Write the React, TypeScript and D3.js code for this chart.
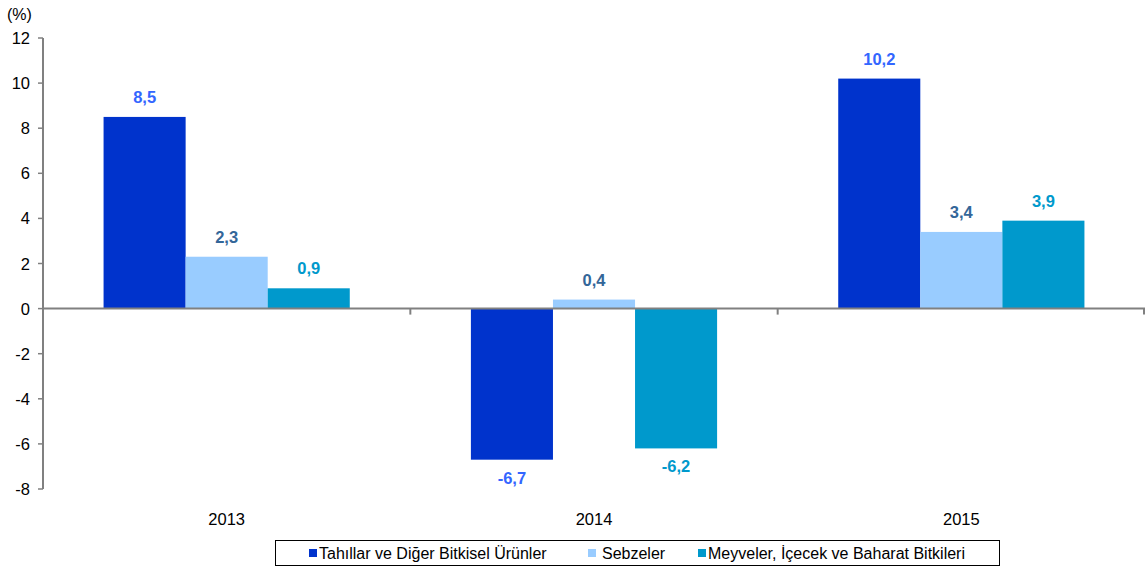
import React from "react";
import * as d3 from "d3";

const categories = ["2013", "2014", "2015"];
const seriesNames = [
  "Tahıllar ve Diğer Bitkisel Ürünler",
  "Sebzeler",
  "Meyveler, İçecek ve Baharat Bitkileri",
];
const tahillar = [8.5, -6.7, 10.2];
const sebzeler = [2.3, 0.4, 3.4];
const meyveler = [0.9, -6.2, 3.9];
const yTicks = [-8, -6, -4, -2, 0, 2, 4, 6, 8, 10, 12];

const barColors = ["#0033CC", "#99CCFF", "#0099CC"];
const labelColors = ["#3366FF", "#336699", "#0099CC"];

const W = 1145;
const H = 570;
const left = 43;
const right = 1145;
const top = 38;
const bottom = 489;

export default function App() {
  const series = [tahillar, sebzeler, meyveler];
  const x = d3.scaleBand().domain(categories).range([left, right]).paddingInner(0).paddingOuter(0);
  const inner = d3
    .scaleBand()
    .domain(seriesNames)
    .range([0, x.bandwidth()])
    .paddingInner(0)
    .paddingOuter(0.738);
  const y = d3.scaleLinear().domain([-8, 12]).range([bottom, top]);
  const fmt = (v: number) => v.toFixed(1).replace(".", ",");
  const font = "Liberation Sans, Arial, sans-serif";

  const legendItems = [
    { sx: 309, tx: 319 },
    { sx: 588, tx: 602 },
    { sx: 698, tx: 708 },
  ];

  return (
    <svg
      width={W}
      height={H}
      style={{ position: "absolute", left: 0, top: 0, background: "#fff" }}
      fontFamily={font}
    >
      <text x={7} y={20} fontSize={16} fill="#000">(%)</text>
      {/* bars */}
      {categories.map((c, ci) =>
        series.map((s, si) => {
          const v = s[ci];
          const bx = (x(c) as number) + (inner(seriesNames[si]) as number);
          const bw = inner.bandwidth();
          const y0 = y(0);
          const yv = y(v);
          return (
            <rect
              key={c + si}
              x={bx}
              y={Math.min(y0, yv)}
              width={bw}
              height={Math.abs(yv - y0)}
              fill={barColors[si]}
            />
          );
        })
      )}
      {/* zero line */}
      <line x1={left} x2={right} y1={y(0)} y2={y(0)} stroke="#808080" strokeWidth={2} />
      {categories.slice(1).map((c) => (
        <line
          key={"t" + c}
          x1={x(c) as number}
          x2={x(c) as number}
          y1={y(0)}
          y2={y(0) + 6}
          stroke="#808080"
          strokeWidth={2}
        />
      ))}
      <line x1={right - 1} x2={right - 1} y1={y(0)} y2={y(0) + 6} stroke="#808080" strokeWidth={2} />
      {/* y axis */}
      <line x1={left} x2={left} y1={top} y2={bottom} stroke="#808080" strokeWidth={2} />
      {yTicks.map((t) => (
        <g key={t}>
          <line x1={left - 5} x2={left} y1={y(t)} y2={y(t)} stroke="#808080" strokeWidth={1.5} />
          <text x={30} y={y(t) + 6} fontSize={16.5} textAnchor="end" fill="#000">
            {t}
          </text>
        </g>
      ))}
      {/* data labels */}
      {categories.map((c, ci) =>
        series.map((s, si) => {
          const v = s[ci];
          const cx = (x(c) as number) + (inner(seriesNames[si]) as number) + inner.bandwidth() / 2;
          const ly = v >= 0 ? y(v) - 14 : y(v) + 24;
          return (
            <text
              key={"l" + c + si}
              x={cx}
              y={ly}
              fontSize={16.5}
              fontWeight="bold"
              textAnchor="middle"
              fill={labelColors[si]}
            >
              {fmt(v)}
            </text>
          );
        })
      )}
      {/* category labels */}
      {categories.map((c) => (
        <text
          key={"c" + c}
          x={(x(c) as number) + x.bandwidth() / 2}
          y={525}
          fontSize={16.5}
          textAnchor="middle"
          fill="#000"
        >
          {c}
        </text>
      ))}
      {/* legend */}
      <rect x={275.5} y={540.5} width={724} height={25} fill="#fff" stroke="#000" strokeWidth={1} />
      {seriesNames.map((n, i) => (
        <g key={"lg" + i}>
          <rect x={legendItems[i].sx} y={549} width={8} height={8} fill={barColors[i]} />
          <text x={legendItems[i].tx} y={558.5} fontSize={16} fill="#000">
            {n}
          </text>
        </g>
      ))}
    </svg>
  );
}
